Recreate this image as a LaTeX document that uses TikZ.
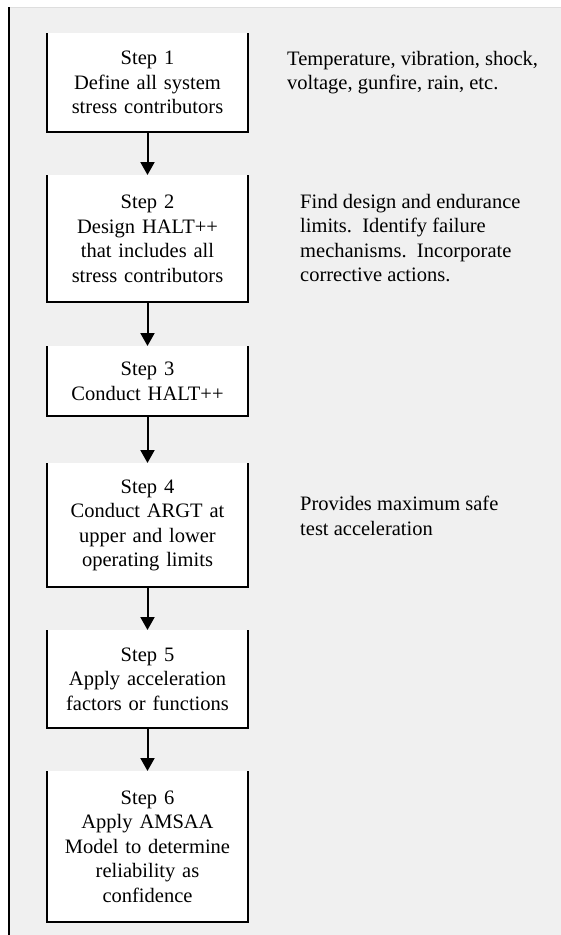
\documentclass[tikz,border=0pt]{standalone}
\usepackage{fontspec}
\setmainfont{Liberation Serif}
\usetikzlibrary{arrows.meta}
\definecolor{bg}{RGB}{240,240,240}
\definecolor{topline}{RGB}{222,222,222}
\begin{document}
\begin{tikzpicture}[x=1pt,y=-1pt,
  stepbox/.style={fill=white, inner sep=0pt, minimum width=201pt, text width=199pt,
    align=center, anchor=north, font=\fontsize{20.5}{24.5}\selectfont},
  note/.style={inner sep=0pt, anchor=north west, align=left,
    font=\fontsize{20.5}{24.5}\selectfont},
  flow/.style={line width=2pt, -{Triangle[width=14pt,length=13pt]}},
  edge/.style={line width=2pt}]
\useasboundingbox (0,0) rectangle (561,935);
\fill[white] (0,0) rectangle (561,935);
\fill[bg] (8,7) rectangle (561,935);
\draw[topline, line width=1pt] (8,7) -- (561,7);
\draw[line width=2pt] (9,7) -- (9,935);

\node[stepbox, minimum height=99pt]  (s1) at (147.5,33)  {Step 1\\Define all system\\stress contributors};
\node[stepbox, minimum height=127pt] (s2) at (147.5,175) {Step 2\\Design HALT++\\that includes all\\stress contributors};
\node[stepbox, minimum height=70pt]  (s3) at (147.5,346) {Step 3\\Conduct HALT++};
\node[stepbox, minimum height=124pt] (s4) at (147.5,463) {Step 4\\Conduct ARGT at\\upper and lower\\operating limits};
\node[stepbox, minimum height=98pt]  (s5) at (147.5,630) {Step 5\\Apply acceleration\\factors or functions};
\node[stepbox, minimum height=151pt] (s6) at (147.5,771) {Step 6\\Apply AMSAA\\Model to determine\\reliability as\\confidence};

\foreach \b in {s1,s2,s3,s4,s5,s6}{
  \draw[edge] (\b.north west) -- (\b.south west) -- (\b.south east) -- (\b.north east);
}

\draw[flow] (s1.south) -- (s2.north);
\draw[flow] (s2.south) -- (s3.north);
\draw[flow] (s3.south) -- (s4.north);
\draw[flow] (s4.south) -- (s5.north);
\draw[flow] (s5.south) -- (s6.north);

\node[note] (n1) at (287,51)  {Temperature, vibration, shock,\\voltage, gunfire, rain, etc.};
\node[note] (n2) at (300,194) {Find design and endurance\\limits.\ \ Identify failure\\mechanisms.\ \ Incorporate\\corrective actions.};
\node[note] (n3) at (300,496) {Provides maximum safe\\test acceleration};
\end{tikzpicture}
\end{document}
